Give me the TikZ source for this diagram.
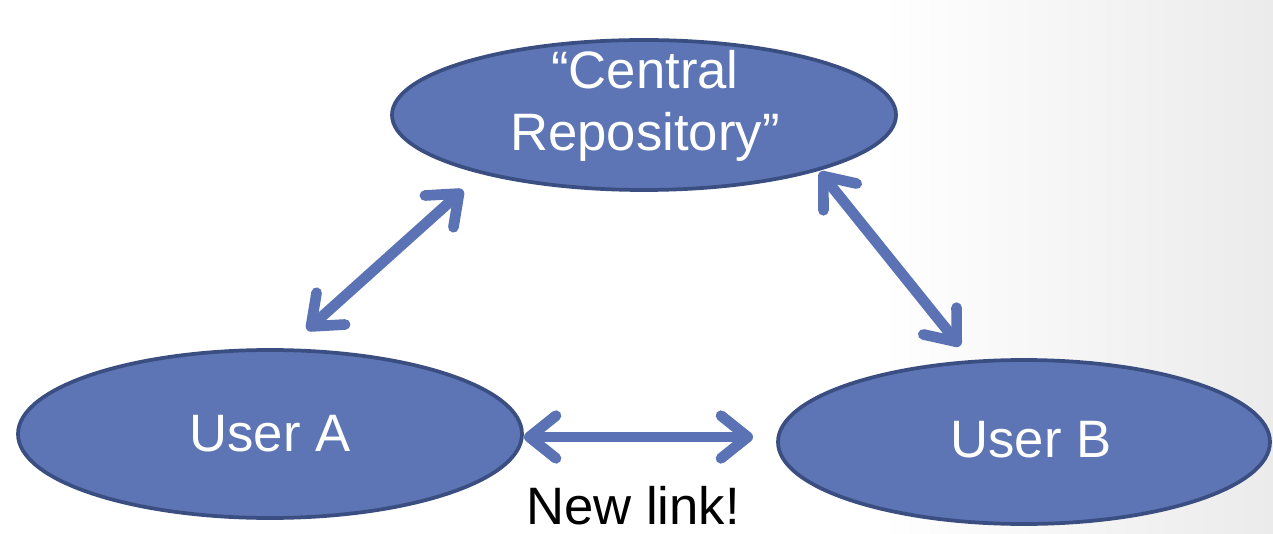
\documentclass[tikz,border=0pt]{standalone}
\usepackage{fontspec}
\setmainfont{Liberation Sans}
\usetikzlibrary{shapes.geometric,arrows.meta}
\definecolor{nodefill}{HTML}{5D75B4}
\definecolor{nodeedge}{HTML}{3A4E82}
\definecolor{arrowcol}{HTML}{5B73B5}
\definecolor{bgright}{HTML}{EBEBEB}
\tikzset{
  ellnode/.style={ellipse, draw=nodeedge, line width=2.8pt, fill=nodefill, text=white,
    inner sep=0pt, font=\fontsize{39.5}{46.5}\selectfont, align=center},
  linkarrow/.style={draw=arrowcol, line width=8pt,
    {Straight Barb[length=20pt,width=32pt,round]}-{Straight Barb[length=20pt,width=32pt,round]}},
  caption/.style={font=\fontsize{39.5}{46.5}\selectfont, text=black, inner sep=0pt}
}
\begin{document}
\begin{tikzpicture}[x=0.75pt,y=-0.75pt]
  \fill[white] (0,0) rectangle (1273,534);
  \shade[left color=white, right color=bgright] (880,0) rectangle (1273,534);
  \useasboundingbox (0,0) rectangle (1273,534);

  \node[ellnode, minimum width=378pt, minimum height=112.5pt] (central) at (644,115) {};
  \node[font=\fontsize{39.5}{46.5}\selectfont, text=white, align=center, inner sep=0pt] (centraltext) at (645,106) {“Central\\Repository”};
  \node[ellnode, minimum width=378pt, minimum height=126pt] (userA) at (270,434) {User A};
  \node[ellnode, minimum width=369pt, minimum height=123pt] (userB) at (1024,442) {};
  \node[font=\fontsize{39.5}{46.5}\selectfont, text=white, inner sep=0pt] (userBtext) at (1031,440) {User B};
  \node[caption] (newlink) at (633,506) {New link!};

  \coordinate (a1) at (307,330);
  \coordinate (a2) at (463,190);
  \coordinate (b1) at (820,172);
  \coordinate (b2) at (960,346);
  \coordinate (c1) at (524,437);
  \coordinate (c2) at (753,437);

  \draw[linkarrow] (a1) -- (a2);
  \draw[linkarrow] (b1) -- (b2);
  \draw[linkarrow] (c1) -- (c2);
\end{tikzpicture}
\end{document}
